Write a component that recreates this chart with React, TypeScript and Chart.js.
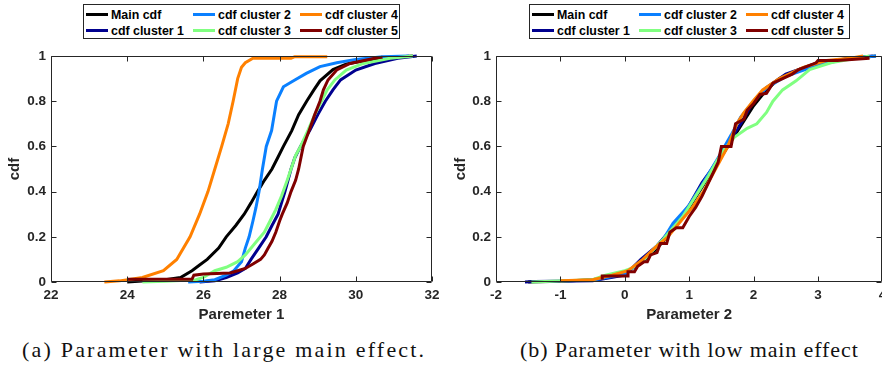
import React, { useEffect, useRef } from "react";
import { Chart, registerables } from "chart.js";

Chart.register(...registerables);

// ---------- Panel (a): Parameter 1 ----------
const p1MainX = [24.0, 24.5, 25.0, 25.4, 25.7, 25.9, 26.1, 26.4, 26.6, 26.85, 27.07, 27.25, 27.42, 27.6, 27.8, 27.95, 28.1, 28.32, 28.5, 28.71, 28.9, 29.06, 29.4, 29.76, 30.4, 31.0, 31.5];
const p1MainY = [0, 0.005, 0.01, 0.02, 0.05, 0.075, 0.1, 0.15, 0.2, 0.25, 0.3, 0.35, 0.4, 0.45, 0.5, 0.55, 0.6, 0.67, 0.74, 0.8, 0.85, 0.89, 0.94, 0.965, 0.985, 0.995, 1.0];

const p1C1X = [25.9, 26.3, 26.6, 26.9, 27.1, 27.25, 27.45, 27.65, 27.8, 27.96, 28.05, 28.14, 28.22, 28.3, 28.4, 28.55, 28.8, 29.0, 29.2, 29.4, 29.6, 30.0, 30.5, 31.1, 31.6];
const p1C1Y = [0, 0.005, 0.02, 0.04, 0.06, 0.1, 0.15, 0.2, 0.25, 0.3, 0.35, 0.4, 0.45, 0.5, 0.55, 0.6, 0.673, 0.74, 0.8, 0.85, 0.894, 0.938, 0.967, 0.99, 1.0];

const p1C2X = [25.6, 26.0, 26.3, 26.6, 26.8, 27.0, 27.1, 27.2, 27.3, 27.38, 27.46, 27.55, 27.65, 27.79, 27.86, 27.92, 28.1, 28.4, 28.7, 29.06, 29.5, 30.0, 30.7, 31.4];
const p1C2Y = [0, 0.003, 0.01, 0.03, 0.05, 0.09, 0.15, 0.2, 0.27, 0.33, 0.4, 0.5, 0.6, 0.67, 0.74, 0.8, 0.864, 0.894, 0.923, 0.953, 0.97, 0.985, 0.997, 1.0];

const p1C3X = [24.4, 25.0, 25.8, 26.0, 26.3, 26.6, 26.9, 27.1, 27.35, 27.6, 27.75, 27.9, 28.05, 28.2, 28.3, 28.42, 28.55, 28.75, 28.92, 29.1, 29.25, 29.45, 29.75, 30.2, 30.9, 31.5];
const p1C3Y = [0, 0.003, 0.01, 0.02, 0.05, 0.065, 0.09, 0.12, 0.17, 0.22, 0.27, 0.32, 0.38, 0.45, 0.5, 0.56, 0.6, 0.673, 0.74, 0.8, 0.85, 0.894, 0.938, 0.967, 0.99, 1.0];

const p1C4X = [23.4, 23.8, 24.4, 24.95, 25.3, 25.65, 25.9, 26.12, 26.3, 26.48, 26.65, 26.78, 26.9, 27.0, 27.1, 27.3, 28.3, 28.4, 29.25];
const p1C4Y = [0, 0.005, 0.02, 0.05, 0.1, 0.2, 0.3, 0.4, 0.5, 0.6, 0.7, 0.8, 0.9, 0.95, 0.97, 0.99, 0.99, 0.997, 0.997];

const p1C5X = [24.0, 25.7, 25.75, 26.0, 26.7, 26.9, 27.1, 27.3, 27.5, 27.6, 27.7, 27.8, 27.9, 28.0, 28.07, 28.2, 28.3, 28.42, 28.5, 28.62, 28.78, 28.92, 29.06, 29.15, 29.27, 29.5, 29.85, 30.5, 30.7];
const p1C5Y = [0.012, 0.012, 0.03, 0.035, 0.04, 0.05, 0.06, 0.08, 0.1, 0.12, 0.15, 0.18, 0.22, 0.27, 0.3, 0.35, 0.4, 0.45, 0.5, 0.6, 0.673, 0.74, 0.8, 0.85, 0.894, 0.938, 0.967, 0.99, 0.995];

// ---------- Panel (b): Parameter 2 ----------
const p2MainX = [-1.5, -1.0, -0.5, -0.2, 0.0, 0.2, 0.4, 0.6, 0.8, 1.0, 1.2, 1.4, 1.6, 1.8, 2.0, 2.2, 2.4, 2.7, 3.0, 3.4, 3.9];
const p2MainY = [0, 0.003, 0.01, 0.025, 0.04, 0.075, 0.12, 0.18, 0.25, 0.33, 0.42, 0.51, 0.6, 0.69, 0.78, 0.85, 0.9, 0.94, 0.965, 0.985, 1.0];

const p2C1X = [-1.55, -1.4, -0.5, 0.0, 0.25, 0.5, 0.8, 1.0, 1.2, 1.35, 1.6, 1.8, 2.0, 2.2, 2.5, 3.0, 3.5, 3.85];
const p2C1Y = [0, 0.002, 0.005, 0.03, 0.1, 0.16, 0.26, 0.34, 0.44, 0.5, 0.61, 0.7, 0.8, 0.86, 0.92, 0.97, 0.99, 1.0];

const p2C2X = [-1.0, -0.5, 0.0, 0.3, 0.6, 0.75, 1.0, 1.2, 1.45, 1.65, 1.8, 2.0, 2.2, 2.5, 3.0, 3.5, 3.9];
const p2C2Y = [0.005, 0.008, 0.035, 0.1, 0.19, 0.26, 0.34, 0.43, 0.55, 0.65, 0.73, 0.8, 0.86, 0.91, 0.96, 0.99, 1.0];

const p2C3X = [-1.45, -0.5, -0.3, 0.0, 0.1, 0.3, 0.6, 0.9, 1.1, 1.3, 1.5, 1.7, 1.9, 2.05, 2.2, 2.3, 2.45, 2.66, 2.87, 3.2, 3.5, 3.8];
const p2C3Y = [0, 0.01, 0.03, 0.05, 0.06, 0.1, 0.19, 0.29, 0.38, 0.47, 0.57, 0.64, 0.68, 0.7, 0.75, 0.8, 0.85, 0.89, 0.94, 0.97, 0.985, 1.0];

const p2C4X = [-1.0, -0.5, -0.2, 0.05, 0.28, 0.5, 0.67, 0.9, 1.05, 1.22, 1.41, 1.6, 1.74, 1.85, 1.99, 2.14, 2.4, 2.77, 3.13, 3.5, 3.7];
const p2C4Y = [0.005, 0.01, 0.03, 0.05, 0.1, 0.16, 0.2, 0.28, 0.33, 0.4, 0.5, 0.6, 0.7, 0.75, 0.8, 0.85, 0.9, 0.95, 0.98, 0.99, 1.0];

const p2C5X = [-0.35, -0.35, 0.05, 0.05, 0.15, 0.2, 0.3, 0.35, 0.4, 0.5, 0.55, 0.65, 0.7, 0.8, 0.9, 1.0, 1.1, 1.2, 1.3, 1.35, 1.45, 1.5, 1.65, 1.72, 1.85, 1.9, 2.0, 2.1, 2.2, 2.3, 2.45, 2.6, 2.7, 2.97, 3.0, 3.3, 3.8];
const p2C5Y = [0.01, 0.027, 0.027, 0.045, 0.045, 0.07, 0.09, 0.09, 0.12, 0.13, 0.17, 0.17, 0.22, 0.24, 0.24, 0.29, 0.33, 0.38, 0.44, 0.47, 0.53, 0.6, 0.6, 0.7, 0.72, 0.76, 0.79, 0.83, 0.835, 0.88, 0.9, 0.92, 0.94, 0.97, 0.98, 0.98, 0.99];

// ---------- Shared ----------
const SERIES_NAMES = ["Main cdf", "cdf cluster 1", "cdf cluster 2", "cdf cluster 3", "cdf cluster 4", "cdf cluster 5"];
const SERIES_COLORS = ["#000000", "#00008F", "#0A80FF", "#80FF80", "#FF8000", "#800000"];
const X1_TICKS = [22, 24, 26, 28, 30, 32];
const X2_TICKS = [-2, -1, 0, 1, 2, 3, 4];
const Y_TICKS = [0, 0.2, 0.4, 0.6, 0.8, 1];

const P1_SERIES = [
  [p1MainX, p1MainY], [p1C1X, p1C1Y], [p1C2X, p1C2Y], [p1C3X, p1C3Y], [p1C4X, p1C4Y], [p1C5X, p1C5Y],
];
const P2_SERIES = [
  [p2MainX, p2MainY], [p2C1X, p2C1Y], [p2C2X, p2C2Y], [p2C3X, p2C3Y], [p2C4X, p2C4Y], [p2C5X, p2C5Y],
];

const AXIS_COLOR = "#262626";
const SANS = '"Liberation Sans", Arial, Helvetica, sans-serif';
const TICK_FONT = { family: SANS, size: 13.5, weight: "bold" as const };
const TITLE_FONT = { family: SANS, size: 15, weight: "bold" as const };

const boxPlugin = {
  id: "matlabBox",
  afterDatasetsDraw(chart: any) {
    const { ctx, chartArea, scales } = chart;
    const { left, right, top, bottom } = chartArea;
    const L = Math.round(left) + 0.5;
    const R = Math.round(right) - 0.5;
    const T = Math.round(top) + 0.5;
    const B = Math.round(bottom) - 0.5;
    ctx.save();
    ctx.strokeStyle = AXIS_COLOR;
    ctx.lineWidth = 1;
    ctx.beginPath();
    ctx.rect(L, T, R - L, B - T);
    const tl = 5;
    scales.x.ticks.forEach((t: any) => {
      const px = Math.round(scales.x.getPixelForValue(t.value)) + 0.5;
      ctx.moveTo(px, B);
      ctx.lineTo(px, B - tl);
      ctx.moveTo(px, T);
      ctx.lineTo(px, T + tl);
    });
    scales.y.ticks.forEach((t: any) => {
      const py = Math.round(scales.y.getPixelForValue(t.value)) + 0.5;
      ctx.moveTo(L, py);
      ctx.lineTo(L + tl, py);
      ctx.moveTo(R, py);
      ctx.lineTo(R - tl, py);
    });
    ctx.stroke();
    ctx.restore();
  },
};

type PanelProps = {
  series: number[][][];
  xMin: number;
  xMax: number;
  xTicks: number[];
  xTitle: string;
  width: number;
  height: number;
  padding: { left: number; right: number; top: number; bottom: number };
  yAxisWidth: number;
};

function Panel(props: PanelProps) {
  const ref = useRef<HTMLCanvasElement>(null);
  useEffect(() => {
    const { series, xMin, xMax, xTicks, xTitle, padding, yAxisWidth } = props;
    const datasets = series.map(([xs, ys], i) => ({
      label: SERIES_NAMES[i],
      data: xs.map((x, k) => ({ x, y: ys[k] })),
      borderColor: SERIES_COLORS[i],
      backgroundColor: SERIES_COLORS[i],
      borderWidth: 3,
      pointRadius: 0,
      fill: false,
      tension: 0,
      order: 6 - i,
      clip: 4,
    }));
    const chart = new Chart(ref.current as HTMLCanvasElement, {
      type: "line",
      data: { datasets },
      options: {
        responsive: false,
        animation: false,
        layout: { padding },
        plugins: { legend: { display: false }, tooltip: { enabled: false } },
        scales: {
          x: {
            type: "linear",
            min: xMin,
            max: xMax,
            afterBuildTicks: (s: any) => {
              s.ticks = xTicks.map((v) => ({ value: v }));
            },
            afterFit: (s: any) => {
              s.height = 42;
              s.paddingLeft = 0;
              s.paddingRight = 0;
            },
            grid: { display: false, drawTicks: false },
            border: { display: false },
            ticks: {
              padding: 5,
              color: AXIS_COLOR,
              font: TICK_FONT,
              maxRotation: 0,
              autoSkip: false,
              callback: (v: any) => String(v),
            },
            title: { display: true, text: xTitle, color: AXIS_COLOR, font: TITLE_FONT, padding: 0 },
          },
          y: {
            type: "linear",
            min: 0,
            max: 1,
            afterBuildTicks: (s: any) => {
              s.ticks = Y_TICKS.map((v) => ({ value: v }));
            },
            afterFit: (s: any) => {
              s.width = yAxisWidth;
              s.paddingTop = 0;
              s.paddingBottom = 0;
            },
            grid: { display: false, drawTicks: false },
            border: { display: false },
            ticks: {
              padding: 5,
              color: AXIS_COLOR,
              font: TICK_FONT,
              autoSkip: false,
              callback: (v: any) => String(v),
            },
            title: { display: true, text: "cdf", color: AXIS_COLOR, font: TITLE_FONT, padding: 0 },
          },
        },
      } as any,
      plugins: [boxPlugin],
    });
    return () => chart.destroy();
  }, []);
  return (
    <canvas
      ref={ref}
      width={props.width}
      height={props.height}
      style={{ width: props.width, height: props.height, display: "block" }}
    />
  );
}

function Legend({ left, width }: { left: number; width: number }) {
  return (
    <div
      style={{
        position: "absolute",
        left,
        top: 4,
        width,
        height: 35,
        border: "1px solid #262626",
        boxSizing: "border-box",
        background: "#fff",
      }}
    >
      {SERIES_NAMES.map((name, i) => {
        const col = Math.floor(i / 2);
        const row = i % 2;
        return (
          <div
            key={name}
            style={{
              position: "absolute",
              left: 2 + col * 107,
              top: 1.5 + row * 16,
              height: 16,
              display: "flex",
              alignItems: "center",
              whiteSpace: "nowrap",
            }}
          >
            <span style={{ display: "inline-block", width: 22, height: 3, background: SERIES_COLORS[i], marginRight: 3 }} />
            <span style={{ font: `bold 12.4px ${SANS}`, color: "#000", lineHeight: "16px" }}>{name}</span>
          </div>
        );
      })}
    </div>
  );
}

const captionStyle: React.CSSProperties = {
  position: "absolute",
  top: 339,
  fontFamily: '"Liberation Serif", "Times New Roman", serif',
  fontSize: 22,
  lineHeight: "22px",
  whiteSpace: "nowrap",
  color: "#111",
};

export default function App() {
  return (
    <div style={{ position: "absolute", left: 0, top: 0, width: 882, height: 367, overflow: "hidden", background: "#fff" }}>
      <div style={{ position: "absolute", left: 0, top: 0 }}>
        <Panel
          series={P1_SERIES}
          xMin={22}
          xMax={32}
          xTicks={X1_TICKS}
          xTitle="Paremeter 1"
          width={441}
          height={330}
          padding={{ left: 6, right: 9, top: 56, bottom: 6 }}
          yAxisWidth={45}
        />
      </div>
      <div style={{ position: "absolute", left: 441, top: 0 }}>
        <Panel
          series={P2_SERIES}
          xMin={-2}
          xMax={4}
          xTicks={X2_TICKS}
          xTitle="Parameter 2"
          width={460}
          height={330}
          padding={{ left: 11, right: 18.6, top: 56, bottom: 6 }}
          yAxisWidth={44}
        />
      </div>
      <Legend left={83} width={317} />
      <Legend left={529} width={321} />
      <div style={{ ...captionStyle, left: 22, letterSpacing: "2.2px" }}>(a) Parameter with large main effect.</div>
      <div style={{ ...captionStyle, left: 520, letterSpacing: "0.9px" }}>(b) Parameter with low main effect</div>
    </div>
  );
}
